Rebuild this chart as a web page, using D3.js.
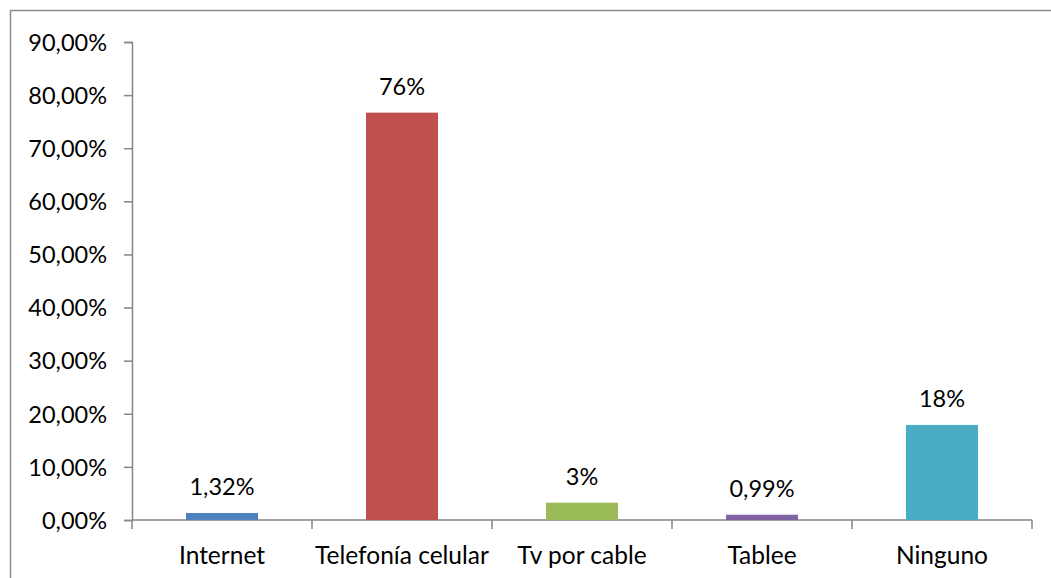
<!DOCTYPE html>
<html>
<head>
<meta charset="utf-8">
<script src="https://cdnjs.cloudflare.com/ajax/libs/d3/7.8.5/d3.min.js"></script>
<style>
  body { margin: 0; background: #fff; }
  text { font-family: Lato, "Open Sans", sans-serif; fill: #000; }
</style>
</head>
<body>
<script>

// chart data
var categories = ["Internet", "Telefonía celular", "Tv por cable", "Tablee", "Ninguno"]
var values = [0.0132, 0.767, 0.0326, 0.0099, 0.179]
var valueLabels = ["1,32%", "76%", "3%", "0,99%", "18%"]
var barColors = ["#4F81BD", "#C0504D", "#9BBB59", "#8064A2", "#4BACC6"]
var yTicks = [0, 0.1, 0.2, 0.3, 0.4, 0.5, 0.6, 0.7, 0.8, 0.9]

var w = 1051, h = 578

var svg = d3.select("body").append("svg")
    .attr("width", w)
    .attr("height", h)

// outer chart border (only top and left are visible in the frame)
svg.append("rect")
    .attr("x", 10.5)
    .attr("y", 10.5)
    .attr("width", w + 20)
    .attr("height", h + 20)
    .style("fill", "none")
    .style("stroke", "#8c8c8c")
    .style("stroke-width", 1.5)

var plot = { left: 132, right: 1032, top: 42, bottom: 520 }

var x = d3.scaleBand()
    .domain(categories)
    .range([plot.left, plot.right])
    .paddingInner(0.6)
    .paddingOuter(0.3)

// band positions for the category ticks (no padding)
var xTick = d3.scaleBand()
    .domain(categories)
    .range([plot.left, plot.right])

var y = d3.scaleLinear()
    .domain([0, 0.9])
    .range([plot.bottom, plot.top])

var pct = function(d) { return d3.format(".2f")(d * 100).replace(".", ",") + "%" }

// y axis
var yAxis = svg.append("g")
    .attr("transform", "translate(" + plot.left + ",0)")
    .call(d3.axisLeft(y).tickValues(yTicks).tickFormat(pct).tickSize(8).tickPadding(17))
yAxis.select(".domain").attr("stroke", "#868686").attr("stroke-width", 1.5)
yAxis.selectAll(".tick line").attr("stroke", "#868686").attr("stroke-width", 1.5)
yAxis.selectAll(".tick text")
    .style("font-size", "23.5px")
    .attr("dy", "0.35em")

// x axis baseline with tick marks at band edges
var xg = svg.append("g")
xg.append("line")
    .attr("x1", plot.left).attr("x2", plot.right)
    .attr("y1", plot.bottom).attr("y2", plot.bottom)
    .attr("stroke", "#868686").attr("stroke-width", 1.5)

var edges = categories.map(function(c) { return xTick(c) }).concat([plot.right])
xg.selectAll(".xt")
    .data(edges)
    .enter()
    .append("line")
    .attr("x1", function(d) { return d }).attr("x2", function(d) { return d })
    .attr("y1", plot.bottom).attr("y2", plot.bottom + 9)
    .attr("stroke", "#868686").attr("stroke-width", 1.5)

xg.selectAll(".xl")
    .data(categories)
    .enter()
    .append("text")
    .attr("x", function(d) { return xTick(d) + xTick.bandwidth() / 2 })
    .attr("y", 564)
    .attr("text-anchor", "middle")
    .style("font-size", "24.5px")
    .text(function(d) { return d })

// bars
svg.selectAll(".bar")
    .data(values)
    .enter()
    .append("rect")
    .attr("x", function(d, i) { return x(categories[i]) })
    .attr("width", x.bandwidth())
    .attr("y", function(d) { return y(d) })
    .attr("height", function(d) { return plot.bottom - y(d) })
    .style("fill", function(d, i) { return barColors[i] })

// data labels
svg.selectAll(".lbl")
    .data(values)
    .enter()
    .append("text")
    .attr("x", function(d, i) { return x(categories[i]) + x.bandwidth() / 2 })
    .attr("y", function(d) { return y(d) - 18 })
    .attr("text-anchor", "middle")
    .style("font-size", "23.5px")
    .text(function(d, i) { return valueLabels[i] })

</script>
</body>
</html>
